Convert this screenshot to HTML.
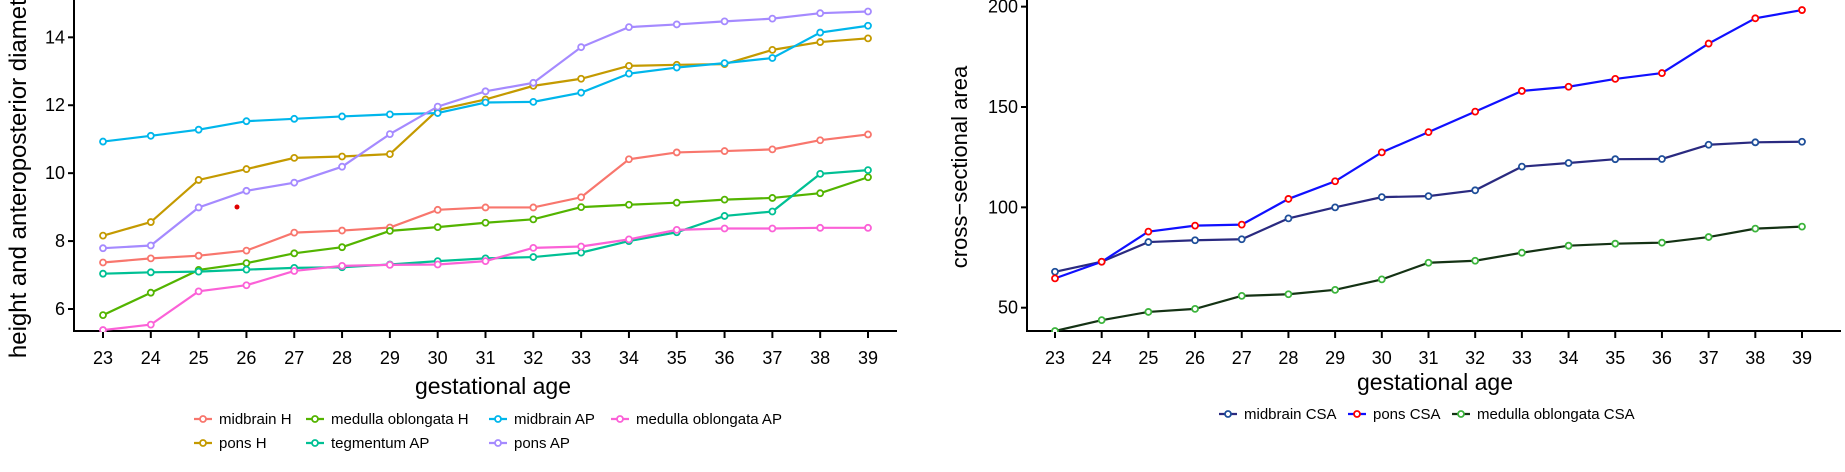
<!DOCTYPE html>
<html><head><meta charset="utf-8"><style>
body{margin:0;background:#fff;}
svg{display:block;font-family:"Liberation Sans",Arial,sans-serif;}
</style></head><body>
<svg id="c" width="1845" height="472" viewBox="0 0 1845 472"></svg>
<script>
const ages=[23,24,25,26,27,28,29,30,31,32,33,34,35,36,37,38,39];
const midbrainH=[7.37,7.49,7.57,7.72,8.25,8.31,8.40,8.92,8.99,8.99,9.29,10.41,10.61,10.65,10.70,10.97,11.14];
const ponsH=[8.16,8.56,9.80,10.12,10.45,10.49,10.56,11.86,12.17,12.57,12.78,13.16,13.19,13.21,13.63,13.86,13.97];
const medullaH=[5.82,6.48,7.15,7.35,7.64,7.82,8.30,8.41,8.54,8.64,9.00,9.07,9.13,9.22,9.27,9.41,9.88];
const tegmentumAP=[7.04,7.08,7.10,7.16,7.21,7.23,7.31,7.41,7.49,7.53,7.66,8.00,8.26,8.74,8.87,9.98,10.09];
const midbrainAP=[10.93,11.10,11.28,11.53,11.60,11.67,11.73,11.77,12.08,12.10,12.37,12.93,13.11,13.24,13.39,14.14,14.34];
const ponsAP=[7.79,7.87,8.99,9.48,9.72,10.19,11.15,11.96,12.41,12.66,13.71,14.30,14.38,14.47,14.55,14.71,14.76];
const medullaAP=[5.38,5.54,6.52,6.70,7.12,7.27,7.30,7.31,7.41,7.80,7.84,8.05,8.33,8.37,8.37,8.39,8.39];
const leftTicks=[6,8,10,12,14];
const midbrainCSA=[67.9,72.9,82.7,83.6,84.1,94.5,100,105.1,105.6,108.5,120.3,122.1,124,124.1,131.2,132.4,132.7];
const ponsCSA=[64.6,72.9,87.9,90.9,91.4,104.2,113,127.4,137.5,147.7,158,160.1,164,166.9,181.6,194.2,198.3];
const medullaCSA=[38.4,43.8,47.9,49.4,55.9,56.7,58.9,64.1,72.4,73.4,77.4,80.9,81.9,82.4,85.2,89.4,90.4];
const rightTicks=[50,100,150,200];

const NS="http://www.w3.org/2000/svg";
const svg=document.getElementById('c');
function mk(t,a,p){const e=document.createElementNS(NS,t);for(const k in a)e.setAttribute(k,a[k]);(p||svg).appendChild(e);return e;}

const lx=a=>103+(a-23)*(868-103)/16;
const ly=v=>309-(v-6)*33.96;
const rx=a=>1055+(a-23)*(1802-1055)/16;
const ry=v=>307.7-(v-50)*2.007;

function axes(x0,x1,yb,xs,ys,ticks,name){
  const g=mk('g',{});
  
  
  mk('line',{x1:x0,y1:0,x2:x0,y2:yb,stroke:'#000','stroke-width':2},g);
  mk('line',{x1:x0-1,y1:yb,x2:x1,y2:yb,stroke:'#000','stroke-width':2},g);
  ticks.forEach(t=>{
    mk('line',{x1:x0-6,y1:ys(t),x2:x0,y2:ys(t),stroke:'#000','stroke-width':2},g);
    const tx=mk('text',{x:x0-9,y:ys(t)+6,'text-anchor':'end','font-size':18,fill:'#000'},g);
    tx.textContent=t;
    
    
  });
  ages.forEach(a=>{
    mk('line',{x1:xs(a),y1:yb,x2:xs(a),y2:yb+7,stroke:'#000','stroke-width':2},g);
    const tx=mk('text',{x:xs(a),y:364,'text-anchor':'middle','font-size':18,fill:'#000'},g);
    tx.textContent=a;
    
    
  });
}
axes(74,897,331,lx,ly,leftTicks,'left');
axes(1027,1841,331,rx,ry,rightTicks,'right');

function series(vals,xs,ys,line,pt,name,clipId){
  const g=mk('g',{'clip-path':'url(#'+clipId+')'});
  
  
  mk('polyline',{points:vals.map((v,i)=>xs(ages[i])+','+ys(v)).join(' '),fill:'none',stroke:line,'stroke-width':2.2},g);
  vals.forEach((v,i)=>{
    const c=mk('circle',{cx:xs(ages[i]),cy:ys(v),r:3,fill:'#fff',stroke:pt,'stroke-width':1.8},g);
    
    
  });
}
const defs=mk('defs',{});
const c1=mk('clipPath',{id:'cl'},defs);mk('rect',{x:74,y:0,width:830,height:332},c1);
const c2=mk('clipPath',{id:'cr'},defs);mk('rect',{x:1027,y:0,width:818,height:332},c2);

const L=[[midbrainH,'#F8766D','midbrain-h'],[ponsH,'#C49A00','pons-h'],[medullaH,'#53B400','medulla-h'],
[tegmentumAP,'#00C094','tegmentum-ap'],[midbrainAP,'#00B6EB','midbrain-ap'],[ponsAP,'#A58AFF','pons-ap'],[medullaAP,'#FB61D7','medulla-ap']];
L.forEach(s=>series(s[0],lx,ly,s[1],s[1],s[2],'cl'));
const dot=mk('circle',{cx:237,cy:207,r:2.5,fill:'#e00000'});



series(medullaCSA,rx,ry,'#143214','#3cb43c','medulla-csa','cr');
series(midbrainCSA,rx,ry,'#2a2a80','#1f4f9a','midbrain-csa','cr');
series(ponsCSA,rx,ry,'#1010ff','#ff0000','pons-csa','cr');

function title(txt,x,y,rot,name,fs){
  const t=mk('text',{x:x,y:y,'text-anchor':'middle','font-size':fs||22,fill:'#000',transform:rot?'rotate(-90 '+x+' '+y+')':''});
  t.textContent=txt;
  
  
}
title('height and anteroposterior diameter',26,168,true,'left-y-axis-title',24);
title('gestational age',493,394,false,'left-x-axis-title',23);
title('cross\u2212sectional area',967,167,true,'right-y-axis-title',22);
title('gestational age',1435,390,false,'right-x-axis-title',23);

function legend(x,y,line,pt,txt){
  const g=mk('g',{});
  
  
  mk('line',{x1:x,y1:y,x2:x+18,y2:y,stroke:line,'stroke-width':2.2},g);
  mk('circle',{cx:x+9,cy:y,r:3,fill:'#fff',stroke:pt,'stroke-width':1.8},g);
  const t=mk('text',{x:x+25,y:y+5,'font-size':15,fill:'#000'},g);
  t.textContent=txt;
}
legend(194,419,'#F8766D','#F8766D','midbrain H');
legend(306,419,'#53B400','#53B400','medulla oblongata H');
legend(489,419,'#00B6EB','#00B6EB','midbrain AP');
legend(611,419,'#FB61D7','#FB61D7','medulla oblongata AP');
legend(194,443,'#C49A00','#C49A00','pons H');
legend(306,443,'#00C094','#00C094','tegmentum AP');
legend(489,443,'#A58AFF','#A58AFF','pons AP');
legend(1219,414,'#2a2a80','#1f4f9a','midbrain CSA');
legend(1348,414,'#1010ff','#ff0000','pons CSA');
legend(1452,414,'#143214','#3cb43c','medulla oblongata CSA');
</script>
</body></html>
